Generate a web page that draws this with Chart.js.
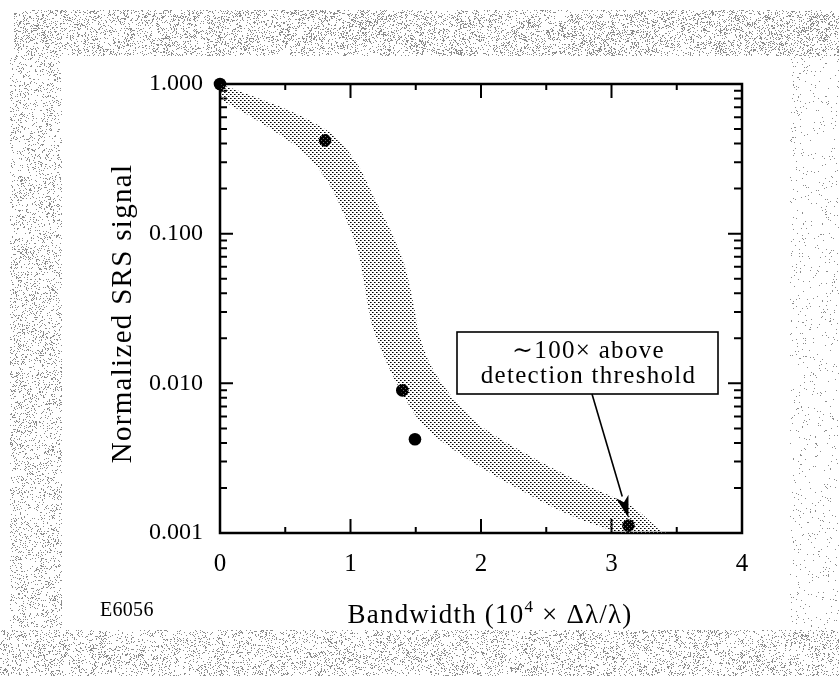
<!DOCTYPE html>
<html><head><meta charset="utf-8">
<script src="https://cdn.jsdelivr.net/npm/chart.js@4"></script>
<style>html,body{margin:0;padding:0;background:#fff;}canvas{display:block}</style>
</head><body>
<canvas id="c" width="839" height="681"></canvas>
<script>
// ---- data ----
const bandUpperX = [0, 0.185, 0.57, 0.877, 1.06, 1.185, 1.315, 1.415, 1.49, 1.523, 1.623, 1.8, 2.008, 2.392, 2.777, 3.162, 3.37, 3.43];
const bandUpperY = [1.0, 0.87, 0.641, 0.45, 0.284, 0.171, 0.1016, 0.0612, 0.0316, 0.0215, 0.0128, 0.0077, 0.0051, 0.00321, 0.00215, 0.00149, 0.00105, 0.001];
const bandLowerX = [0, 0.315, 0.646, 0.83, 0.954, 1.06, 1.108, 1.16, 1.238, 1.369, 1.569, 1.877, 2.262, 2.646, 2.985, 3.1, 3.43];
const bandLowerY = [0.79, 0.55, 0.347, 0.219, 0.132, 0.0746, 0.045, 0.0255, 0.0166, 0.0094, 0.0051, 0.00321, 0.00203, 0.00136, 0.00105, 0.001, 0.001];
const pointX = [0, 0.805, 1.397, 1.494, 3.13];
const pointY = [1.0, 0.42, 0.00898, 0.00423, 0.00112];

const xTicks = [0, 1, 2, 3, 4];
const xTickLabels = ['0', '1', '2', '3', '4'];
const xMinorTicks = [0.5, 1.5, 2.5, 3.5];
const yTicks = [0.001, 0.01, 0.1, 1];
const yTickLabels = ['0.001', '0.010', '0.100', '1.000'];
const yMinorTicks = [0.002,0.003,0.004,0.005,0.006,0.007,0.008,0.009,
                     0.02,0.03,0.04,0.05,0.06,0.07,0.08,0.09,
                     0.2,0.3,0.4,0.5,0.6,0.7,0.8,0.9];

const xTitleParts = ['Bandwidth (10', '4', ' \u00D7 \u0394\u03BB/\u03BB)'];
const yTitle = 'Normalized SRS signal';
const figureId = 'E6056';
const noteLines = ['\u223C100\u00D7 above', 'detection threshold'];

const SERIF = '"Liberation Serif", "DejaVu Serif", serif';

// ---- patterns ----
function makeDotPattern() {
  const c = document.createElement('canvas');
  c.width = 4; c.height = 4;
  const g = c.getContext('2d');
  g.fillStyle = '#000';
  g.fillRect(0, 0, 1, 1);
  g.fillRect(2, 2, 1, 1);
  g.fillStyle = '#6a6a6a';
  g.fillRect(1, 0, 1, 1);
  g.fillRect(3, 2, 1, 1);
  return g.createPattern(c, 'repeat');
}
// deterministic scan-like speckle for the page border (texture only)
function speckle(g, x0, y0, w, h, density) {
  g.fillStyle = '#8c8c8c';
  for (let y = y0; y < y0 + h; y++) {
    for (let x = x0; x < x0 + w; x++) {
      let n = (x * 374761393 + y * 668265263) | 0;
      n = Math.imul(n ^ (n >>> 13), 1274126177);
      n = (n ^ (n >>> 16)) >>> 0;
      const c = ((Math.floor(x / 9) * 73856093) ^ (Math.floor(y / 7) * 19349663)) >>> 0;
      const clump = 0.5 + ((c % 1000) / 1000);
      if ((n % 10000) / 10000 < density * clump) g.fillRect(x, y, 1, 1);
    }
  }
}
const ctx = document.getElementById('c').getContext('2d');
const dotPattern = makeDotPattern();

const bgPlugin = {
  id: 'bg',
  beforeDraw(chart) {
    const g = chart.ctx;
    g.save();
    g.fillStyle = '#fff';
    g.fillRect(0, 0, chart.width, chart.height);
    speckle(g, 14, 10, 825, 46, 0.2);
    speckle(g, 10, 56, 52, 572, 0.14);
    speckle(g, 0, 630, 839, 46, 0.16);
    speckle(g, 790, 56, 49, 574, 0.03);
    g.restore();
  }
};

function drawSpaced(g, text, x, y, spacing) {
  g.letterSpacing = spacing + 'px';
  g.fillText(text, x, y);
  const w = g.measureText(text).width;
  g.letterSpacing = '0px';
  return w;
}

const framePlugin = {
  id: 'frame',
  beforeDatasetsDraw(chart) {
    const g = chart.ctx, a = chart.chartArea;
    const xs = chart.scales.x, ys = chart.scales.y;
    g.save();
    g.strokeStyle = '#000';
    g.lineWidth = 2.5;
    g.strokeRect(a.left, a.top, a.right - a.left, a.bottom - a.top);
    g.lineWidth = 2;
    g.beginPath();
    const tick = (x1, y1, x2, y2) => { g.moveTo(x1, y1); g.lineTo(x2, y2); };
    xTicks.forEach(v => {
      const px = xs.getPixelForValue(v);
      tick(px, a.bottom, px, a.bottom - 14);
      tick(px, a.top, px, a.top + 14);
    });
    xMinorTicks.forEach(v => {
      const px = xs.getPixelForValue(v);
      tick(px, a.bottom, px, a.bottom - 6);
      tick(px, a.top, px, a.top + 6);
    });
    yTicks.forEach(v => {
      const py = ys.getPixelForValue(v);
      tick(a.left, py, a.left + 13, py);
      tick(a.right, py, a.right - 14, py);
    });
    yMinorTicks.forEach(v => {
      const py = ys.getPixelForValue(v);
      tick(a.left, py, a.left + 7, py);
      tick(a.right, py, a.right - 8, py);
    });
    g.stroke();
    g.restore();
  },
  afterDraw(chart) {
    const g = chart.ctx, a = chart.chartArea;
    const xs = chart.scales.x, ys = chart.scales.y;
    g.save();
    g.fillStyle = '#000';
    // x title with superscript
    const sp = 1.2;
    g.font = '27px ' + SERIF;
    g.letterSpacing = sp + 'px';
    const w0 = g.measureText(xTitleParts[0]).width;
    const w2 = g.measureText(xTitleParts[2]).width;
    g.font = '17px ' + SERIF;
    const w1 = g.measureText(xTitleParts[1]).width;
    g.letterSpacing = '0px';
    const total = w0 + w1 + w2;
    let cx = (a.left + a.right) / 2 + 9 - total / 2;
    const base = 623;
    g.textAlign = 'left'; g.textBaseline = 'alphabetic';
    g.font = '27px ' + SERIF;
    drawSpaced(g, xTitleParts[0], cx, base, sp); cx += w0;
    g.font = '17px ' + SERIF;
    drawSpaced(g, xTitleParts[1], cx, base - 11, sp); cx += w1;
    g.font = '27px ' + SERIF;
    drawSpaced(g, xTitleParts[2], cx, base, sp);
    // figure id
    g.font = '20px ' + SERIF;
    drawSpaced(g, figureId, 100, 616, 0.3);
    // y title rotated
    g.save();
    g.translate(131, (a.top + a.bottom) / 2 + 5);
    g.rotate(-Math.PI / 2);
    g.font = '29px ' + SERIF;
    g.textAlign = 'center';
    drawSpaced(g, yTitle, 0, 0, 1.3);
    g.restore();
    // annotation box
    const bx = 457, by = 332, bw = 261, bh = 62;
    g.fillStyle = '#fff';
    g.fillRect(bx, by, bw, bh);
    g.strokeStyle = '#000';
    g.lineWidth = 1.6;
    g.strokeRect(bx, by, bw, bh);
    g.fillStyle = '#000';
    g.font = '25px ' + SERIF;
    g.textAlign = 'center';
    drawSpaced(g, noteLines[0], bx + bw / 2 + 1, 358, 1.3);
    drawSpaced(g, noteLines[1], bx + bw / 2 + 1, 383, 1.3);
    // arrow to last point
    const tx = xs.getPixelForValue(pointX[4]);
    const ty = ys.getPixelForValue(pointY[4]) - 8;
    const sx = 592, sy = by + bh;
    const ang = Math.atan2(ty - sy, tx - sx);
    const hl = 22, hw = 6.5;
    const bxp = tx - hl * Math.cos(ang), byp = ty - hl * Math.sin(ang);
    g.lineWidth = 1.6;
    g.beginPath(); g.moveTo(sx, sy); g.lineTo(bxp, byp); g.stroke();
    g.beginPath();
    g.moveTo(tx, ty);
    g.lineTo(bxp + hw * Math.sin(ang), byp - hw * Math.cos(ang));
    g.lineTo(tx - (hl - 6) * Math.cos(ang), ty - (hl - 6) * Math.sin(ang));
    g.lineTo(bxp - hw * Math.sin(ang), byp + hw * Math.cos(ang));
    g.closePath(); g.fill();
    g.restore();
  }
};

const toXY = (xs, ys) => xs.map((x, i) => ({x, y: ys[i]}));

new Chart(ctx, {
  type: 'scatter',
  data: {
    datasets: [
      { label: 'upper', data: toXY(bandUpperX, bandUpperY), showLine: true, borderWidth: 0,
        borderColor: 'rgba(0,0,0,0)', pointRadius: 0, fill: false, tension: 0.3 },
      { label: 'lower', data: toXY(bandLowerX, bandLowerY), showLine: true, borderWidth: 0,
        borderColor: 'rgba(0,0,0,0)', pointRadius: 0, fill: '-1', backgroundColor: dotPattern,
        tension: 0.3 },
      { label: 'points', data: toXY(pointX, pointY), showLine: false, pointRadius: 6.3,
        pointBackgroundColor: '#000', pointBorderColor: '#000', pointBorderWidth: 0, clip: false }
    ]
  },
  options: {
    responsive: false,
    animation: false,
    events: [],
    layout: { padding: { left: 0, top: 84, right: 97, bottom: 0 } },
    plugins: { legend: { display: false }, tooltip: { enabled: false }, filler: { propagate: false } },
    scales: {
      x: {
        type: 'linear', min: 0, max: 4,
        grid: { display: false, drawTicks: false }, border: { display: false },
        afterFit: s => { s.height = 148; },
        afterBuildTicks: s => { s.ticks = xTicks.map(v => ({ value: v })); },
        ticks: { autoSkip: false, maxRotation: 0, padding: 16, color: '#000',
          font: { family: SERIF, size: 25 },
          callback: v => xTickLabels[xTicks.indexOf(v)] }
      },
      y: {
        type: 'logarithmic', min: 0.001, max: 1,
        grid: { display: false, drawTicks: false }, border: { display: false },
        afterFit: s => { s.width = 220; },
        afterBuildTicks: s => { s.ticks = yTicks.map(v => ({ value: v })); },
        ticks: { autoSkip: false, padding: 17, color: '#000',
          font: { family: SERIF, size: 24 },
          callback: v => yTickLabels[yTicks.indexOf(v)] }
      }
    }
  },
  plugins: [bgPlugin, framePlugin]
});
</script>
</body></html>
